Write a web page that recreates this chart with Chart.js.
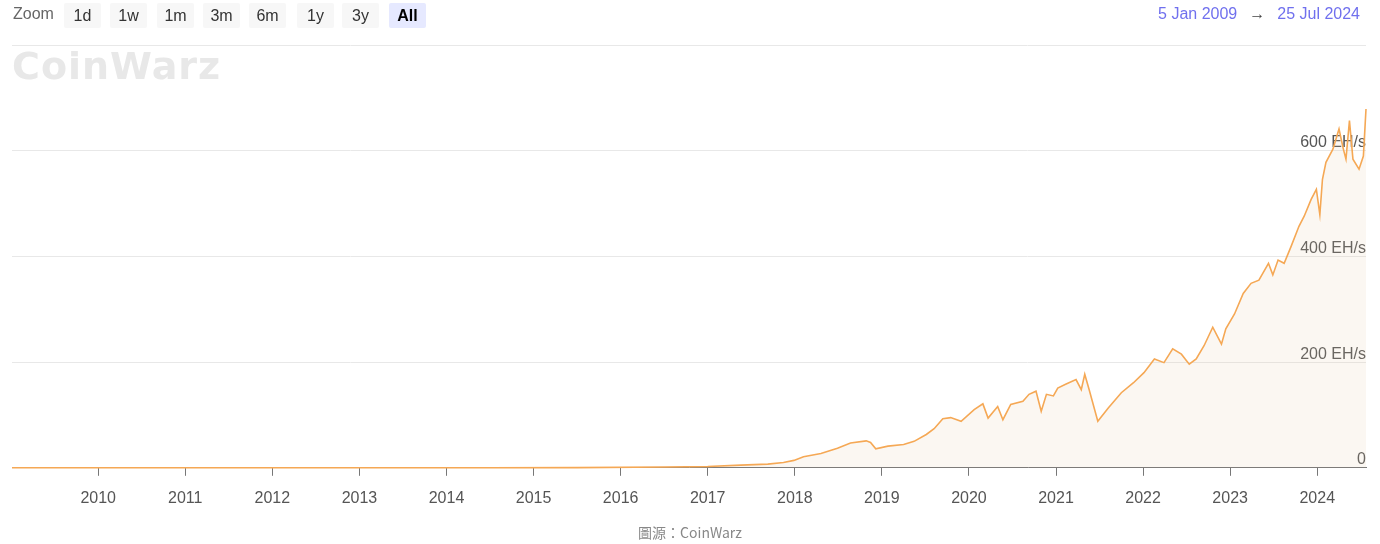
<!DOCTYPE html>
<html>
<head>
<meta charset="utf-8">
<script src="https://cdn.jsdelivr.net/npm/chart.js@4"></script>
<style>
  html, body { margin: 0; padding: 0; background: #fff; }
  #wrap { position: relative; width: 1380px; height: 544px; overflow: hidden; font-family: "Liberation Sans", Arial, sans-serif; }
  #chart { position: absolute; left: 0; top: 0; }
  .zoomLabel { position: absolute; left: 13px; top: 5px; font-size: 16px; color: #666; }
  .btn { position: absolute; top: 3px; width: 37px; height: 25px; line-height: 25px; text-align: center; font-size: 16px; color: #333; background: #f7f7f7; border-radius: 2px; }
  .btn.on { background: #e6e9ff; color: #000; font-weight: bold; }
  #range { position: absolute; right: 20px; top: 5px; font-size: 16px; color: #7070ee; }
  #range span.arrow { color: #444; margin: 0 12px; }
  #logo { position: absolute; left: 12px; top: 44px; font-family: "DejaVu Sans", sans-serif; font-weight: bold; font-size: 38px; color: #e8e8e8; letter-spacing: 1px; }
  #src { position: absolute; left: 0; width: 1380px; top: 522px; text-align: center; font-size: 14px; color: #888; font-family: "Noto Sans CJK TC", "Liberation Sans", sans-serif; }
</style>
</head>
<body>
<div id="wrap">
  <canvas id="chart" width="1380" height="544"></canvas>
  <div class="zoomLabel">Zoom</div>
  <div id="buttons"></div>
  <div id="range">5 Jan 2009<span class="arrow">&rarr;</span>25 Jul 2024</div>
  <div id="logo">CoinWarz</div>
  <div id="src">圖源：CoinWarz</div>
</div>
<script>
// zoom buttons
const zoomButtons = ['1d', '1w', '1m', '3m', '6m', '1y', '3y', 'All'];
const buttonLeft = [64, 110, 157, 203, 249, 297, 342, 389];

// hash rate (EH/s), x as decimal year
const years = [2009.01, 2010.5, 2012.0, 2013.5, 2014.5, 2015.5, 2016.5, 2017.0, 2017.38, 2017.69, 2017.87, 2017.99,
  2018.10, 2018.30, 2018.49, 2018.64, 2018.82, 2018.87, 2018.93, 2019.07, 2019.25, 2019.37, 2019.51, 2019.60,
  2019.70, 2019.79, 2019.91, 2020.06, 2020.16, 2020.22, 2020.33, 2020.39, 2020.48, 2020.62, 2020.69, 2020.77,
  2020.83, 2020.89, 2020.97, 2021.02, 2021.11, 2021.23, 2021.29, 2021.33, 2021.38, 2021.48, 2021.60, 2021.75,
  2021.89, 2022.01, 2022.13, 2022.24, 2022.34, 2022.44, 2022.53, 2022.61, 2022.70, 2022.80, 2022.90, 2022.95,
  2023.05, 2023.15, 2023.24, 2023.33, 2023.44, 2023.49, 2023.55, 2023.62, 2023.70, 2023.79, 2023.85, 2023.93,
  2023.99, 2024.03, 2024.06, 2024.10, 2024.18, 2024.25, 2024.30, 2024.33, 2024.37, 2024.41, 2024.48, 2024.53, 2024.56];
const hashrate = [0, 0, 0, 0.02, 0.2, 0.4, 1.5, 2.5, 5, 7, 10, 14,
  21, 27, 37, 47, 51, 48, 36, 41, 44, 50, 63, 74,
  93, 95, 88, 110, 121, 94, 116, 91, 120, 126, 139, 145,
  107, 139, 136, 151, 158, 167, 148, 177, 148, 88, 113, 142,
  161, 180, 206, 199, 225, 215, 196, 206, 231, 266, 234, 263,
  291, 330, 349, 355, 387, 365, 393, 387, 419, 457, 476, 508,
  527, 479, 546, 578, 603, 641, 603, 584, 657, 584, 565, 590, 679];

const xTickYears = [2010, 2011, 2012, 2013, 2014, 2015, 2016, 2017, 2018, 2019, 2020, 2021, 2022, 2023, 2024];
const yTicks = [0, 200, 400, 600, 800];

const btnBox = document.getElementById('buttons');
zoomButtons.forEach((b, i) => {
  const d = document.createElement('div');
  d.className = 'btn' + (b === 'All' ? ' on' : '');
  d.style.left = buttonLeft[i] + 'px';
  d.textContent = b;
  btnBox.appendChild(d);
});

const ctx = document.getElementById('chart').getContext('2d');
new Chart(ctx, {
  type: 'line',
  data: {
    datasets: [{
      data: years.map((y, i) => ({x: y, y: hashrate[i]})),
      borderColor: '#f5a855',
      borderWidth: 1.6,
      backgroundColor: 'rgba(230,200,170,0.15)',
      fill: 'origin',
      pointRadius: 0,
      tension: 0,
      clip: 4
    }]
  },
  options: {
    responsive: false,
    animation: false,
    devicePixelRatio: 1,
    layout: { padding: { left: 12, right: 14, top: 45, bottom: 23 } },
    plugins: { legend: { display: false }, tooltip: { enabled: false } },
    scales: {
      x: {
        type: 'linear',
        min: 2009.01,
        max: 2024.56,
        afterBuildTicks: s => { s.ticks = xTickYears.map(v => ({value: v})); },
        grid: { drawOnChartArea: false, tickLength: 8, color: '#777' },
        border: { color: '#777', width: 1 },
        ticks: { padding: 13, color: '#555', font: { size: 16, family: 'Liberation Sans' }, maxRotation: 0, callback: v => String(v) }
      },
      y: {
        position: 'right',
        min: 0,
        max: 800,
        afterBuildTicks: s => { s.ticks = yTicks.map(v => ({value: v})); },
        grid: { drawTicks: false, color: '#e8e8e8' },
        border: { display: false },
        ticks: {
          mirror: true, padding: 0, labelOffset: -8, color: '#555',
          font: { size: 16, family: 'Liberation Sans' },
          callback: v => v === 0 ? '0' : (v === 800 ? '' : v + ' EH/s')
        }
      }
    }
  }
});
</script>
</body>
</html>
